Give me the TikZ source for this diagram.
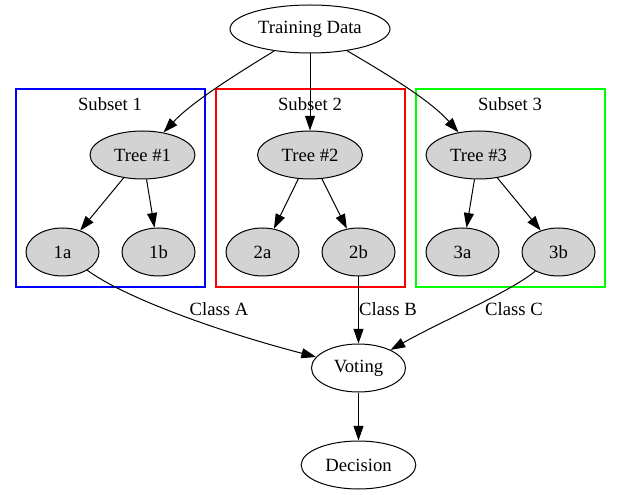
\documentclass[tikz,border=0pt]{standalone}
\usepackage{fontspec}
\setmainfont{Liberation Serif}
\usetikzlibrary{shapes.geometric,arrows.meta}
\definecolor{gvgray}{RGB}{211,211,211}
\definecolor{gvgreen}{RGB}{0,255,0}
\definecolor{gvblue}{RGB}{0,0,255}
\definecolor{gvred}{RGB}{255,0,0}
\begin{document}
\begin{tikzpicture}[x=0.75pt,y=-0.75pt,
  every node/.style={font=\fontsize{14}{16}\selectfont},
  nd/.style={ellipse,draw,line width=0.75pt,inner sep=0pt,minimum height=36pt},
  leaf/.style={nd,fill=gvgray,minimum width=54.75pt},
  tree/.style={nd,fill=gvgray,minimum width=78.75pt},
  edge/.style={line width=0.75pt,-{Triangle[length=11pt,width=7.5pt]}},
  box/.style={line width=0.8pt},
  lbl/.style={inner sep=0pt}
]
\useasboundingbox (0,0) rectangle (621,495);
% subset boxes
\draw[box,gvblue] (16,89) rectangle (205,287);
\draw[box,gvred] (216,89) rectangle (405,287);
\draw[box,gvgreen] (416,89) rectangle (605,287);
\node[lbl] (s1) at (110,104) {Subset 1};
\node[lbl] (s2) at (310,104) {Subset 2};
\node[lbl] (s3) at (510,104) {Subset 3};
% nodes
\node[nd,minimum width=120pt] (td) at (310,29) {Training Data};
\node[tree] (t1) at (142.5,155) {Tree \#1};
\node[tree] (t2) at (310,155) {Tree \#2};
\node[tree] (t3) at (478.5,155) {Tree \#3};
\node[leaf] (l1a) at (62.5,252) {1a};
\node[leaf] (l1b) at (158.5,252) {1b};
\node[leaf] (l2a) at (262.5,252) {2a};
\node[leaf] (l2b) at (358.5,252) {2b};
\node[leaf] (l3a) at (462.5,252) {3a};
\node[leaf] (l3b) at (558.5,252) {3b};
\node[nd,minimum width=70.5pt] (vote) at (358.5,368) {Voting};
\node[nd,minimum width=86pt] (dec) at (358.5,465) {Decision};
% edges
\draw[edge] (td) .. controls (235,75) and (192,102) .. (t1);
\draw[edge] (td) -- (t2);
\draw[edge] (td) .. controls (385,73) and (430,100) .. (t3);
\draw[edge] (t1) -- (l1a);
\draw[edge] (t1) -- (l1b);
\draw[edge] (t2) -- (l2a);
\draw[edge] (t2) -- (l2b);
\draw[edge] (t3) -- (l3a);
\draw[edge] (t3) -- (l3b);
\draw[edge] (l1a) .. controls (125,298) and (220,332) .. (vote);
\draw[edge] (l2b) -- (vote);
\draw[edge] (l3b) .. controls (510,292) and (440,322) .. (vote);
\draw[edge] (vote) -- (dec);
% edge labels
\node[lbl] (ca) at (219,309) {Class A};
\node[lbl] (cb) at (388,309) {Class B};
\node[lbl] (cc) at (514,309) {Class C};
\end{tikzpicture}
\end{document}
